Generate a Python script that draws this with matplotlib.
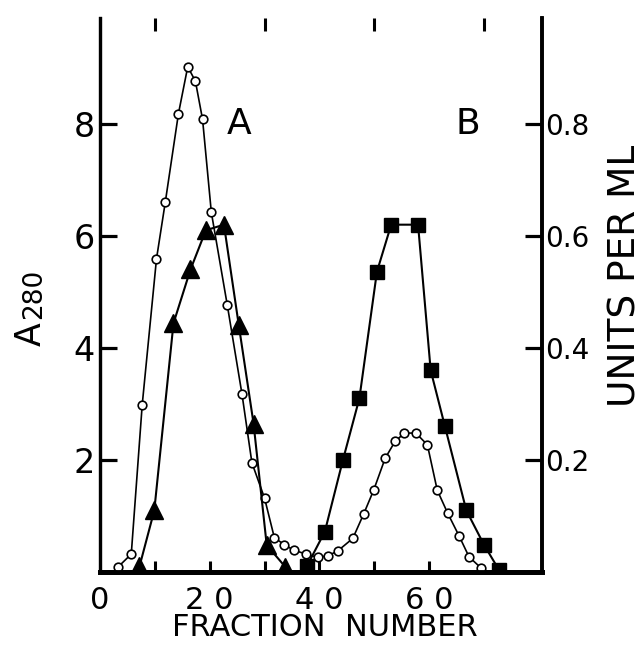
import matplotlib.pyplot as plt

# A280, open circles (left axis)
circ_x = [3.3, 5.7, 7.7, 10.3, 11.9, 14.3, 16.0, 17.4, 18.7, 20.3, 23.2, 25.9, 27.7, 30.0,
          31.8, 33.6, 35.3, 37.6, 39.7, 41.6, 43.4, 46.1, 48.1, 49.9, 52.0, 53.8, 55.5,
          57.6, 59.7, 61.5, 63.4, 65.5, 67.3, 69.5]
circ_y = [0.09, 0.32, 2.99, 5.59, 6.6, 8.18, 9.02, 8.76, 8.08, 6.42, 4.77, 3.17, 1.95, 1.32,
          0.61, 0.49, 0.39, 0.32, 0.26, 0.29, 0.38, 0.6, 1.04, 1.46, 2.03, 2.33, 2.48,
          2.48, 2.27, 1.46, 1.05, 0.64, 0.27, 0.07]

# units per ml, peak A (filled triangles, right axis)
tri_x = [7.2, 9.9, 13.4, 16.5, 19.3, 22.6, 25.3, 28.0, 30.4, 33.8]
tri_y = [0.01, 0.11, 0.444, 0.54, 0.61, 0.62, 0.441, 0.265, 0.048, 0.009]

# units per ml, peak B (filled squares, right axis)
sq_x = [37.7, 41.0, 44.3, 47.3, 50.5, 53.1, 58.0, 60.3, 62.9, 66.8, 70.0, 72.8]
sq_y = [0.01, 0.072, 0.20, 0.31, 0.536, 0.62, 0.62, 0.36, 0.26, 0.11, 0.049, 0.003]

fig = plt.figure(figsize=(6.44, 6.58), dpi=100)
ax = fig.add_axes([0.1553, 0.1307, 0.6863, 0.8420])
ax2 = ax.twinx()

ax.plot(circ_x, circ_y, color="black", lw=1.2, marker="o", ms=6.2, mfc="white",
        mec="black", mew=1.2, zorder=3)
ax2.plot(tri_x, tri_y, color="black", lw=1.5, marker="^", ms=13.5, mfc="black",
         mec="black", zorder=3)
ax2.plot(sq_x, sq_y, color="black", lw=1.5, marker="s", ms=9.5, mfc="black",
         mec="black", zorder=3)

ax.set_xlim(0.5, 80.6)
ax.set_ylim(0, 9.89)
ax2.set_ylim(0, 0.989)

for a in (ax, ax2):
    a.spines["top"].set_visible(False)
    a.spines["left"].set_linewidth(2.3)
    a.spines["right"].set_linewidth(2.6)
    a.spines["bottom"].set_linewidth(3.5)

ax.set_xticks([0, 20, 40, 60])
ax.set_xticklabels(["0", "2 0", "4 0", "6 0"])
ax.set_xticks([10, 20, 30, 40, 50, 60, 70], minor=True)
ax.tick_params(axis="x", which="major", direction="in", length=0, labelsize=22, pad=10)
ax.tick_params(axis="x", which="minor", direction="in", length=9, width=2.2,
               top=True, bottom=False)
ax.set_yticks([2, 4, 6, 8])
ax.tick_params(axis="y", direction="in", length=12, width=2.3, labelsize=24, pad=4)

ax2.set_yticks([0.2, 0.4, 0.6, 0.8])
ax2.set_yticklabels(["0.2", "0.4", "0.6", "0.8"])
ax2.tick_params(axis="y", direction="in", length=12, width=2.3, labelsize=20, pad=2)

# bottom inward ticks (shorter than the top ones)
for xt in [10, 20, 30, 40, 50, 60]:
    ax.plot([xt, xt], [0, 0.2], color="black", lw=2.2, solid_capstyle="butt", zorder=2)

ax.text(25.3, 8.0, "A", fontsize=26, ha="center", va="center")
ax.text(67.0, 8.0, "B", fontsize=26, ha="center", va="center")

fig.text(31 / 644, 1 - 334 / 658, "A", rotation=90, fontsize=25, ha="center", va="center")
fig.text(34 / 644, 1 - 294 / 658, "280", rotation=90, fontsize=19, ha="center", va="center")
fig.text(625 / 644, 1 - 276 / 658, "UNITS PER ML", rotation=90, fontsize=27,
         ha="center", va="center")
fig.text(325 / 644, 1 - 628 / 658, "FRACTION  NUMBER", fontsize=22, ha="center", va="center")

plt.savefig("out.png", dpi=100)
